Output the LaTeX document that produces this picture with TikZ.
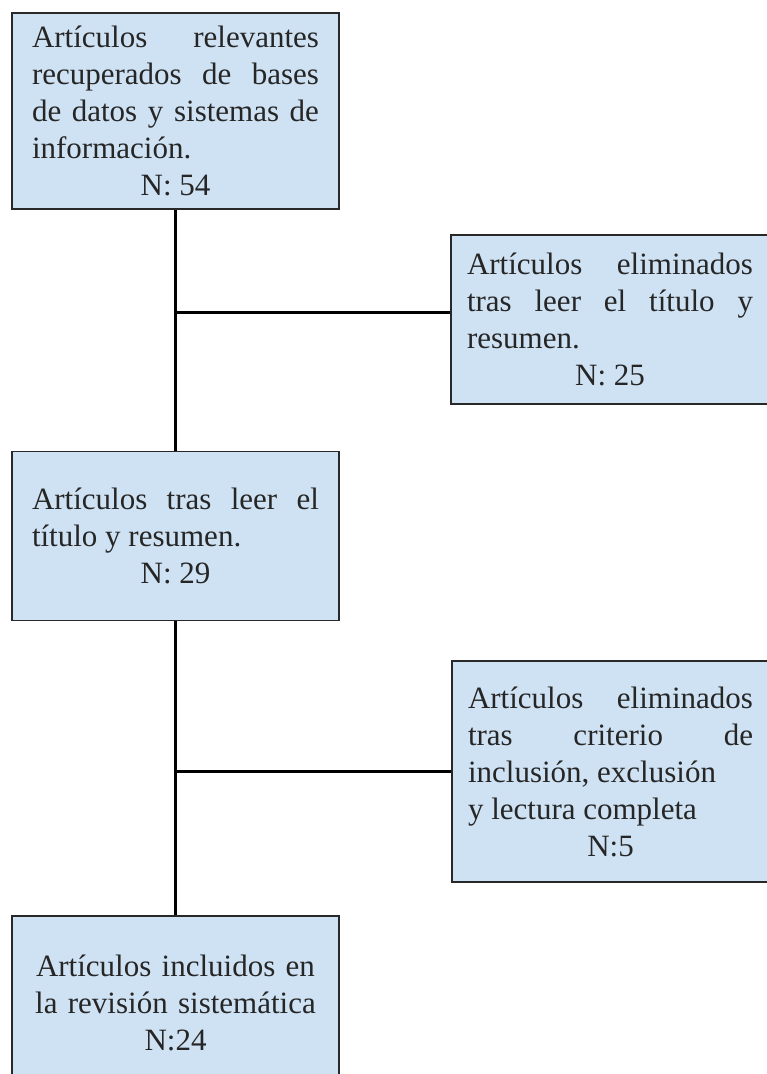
\documentclass[tikz,border=0pt]{standalone}
\usepackage{fontspec}
\setmainfont{Liberation Serif}
\usetikzlibrary{positioning}
\definecolor{cajaazul}{RGB}{207,226,243}
\definecolor{borde}{RGB}{40,40,40}

\begin{document}
\begin{tikzpicture}[x=1pt,y=1pt,
    caja/.style={draw=borde, line width=1.6pt, fill=cajaazul, text=black!85,
      font=\fontsize{31}{37}\selectfont, align=justify, inner sep=0pt,
      text width=287pt, minimum width=327pt},
    linea/.style={line width=3pt, draw=black}]
    \useasboundingbox (0,0) rectangle (767,-1074);
    \node [caja, minimum height=196pt] (recuperados) at (175.5,-111)
      {Artículos relevantes\linebreak recuperados de bases\linebreak de datos y sistemas de\linebreak información.\par{\centering N: 54\par}};
    \node [caja, minimum height=169pt, below=241pt of recuperados] (titulo)
      {Artículos tras leer el\linebreak título y resumen.\par{\centering N: 29\par}};
    \node [caja, minimum height=174pt, align=center, below=294pt of titulo] (incluidos)
      {Artículos incluidos en\\ la revisión sistemática\\ N:24};
    \node [caja, minimum height=169pt, text width=286pt, minimum width=318pt] (eliminadosA) at (610,-319.5)
      {Artículos eliminados\linebreak tras leer el título y\linebreak resumen.\par{\centering N: 25\par}};
    \node [caja, minimum height=221pt, text width=285pt, minimum width=317pt] (eliminadosB) at (610.5,-771.5)
      {Artículos eliminados\linebreak tras criterio de\linebreak inclusión, exclusión\hfill\break y lectura completa\par{\centering N:5\par}};
    % conectores
    \draw [linea] (recuperados.south) -- (titulo.north);
    \draw [linea] ([yshift=7.5pt]eliminadosA.west) -- ([yshift=7.5pt]eliminadosA.west -| recuperados.south);
    \draw [linea] (titulo.south) -- (incluidos.north);
    \draw [linea] (eliminadosB.west) -- (eliminadosB.west -| titulo.south);
\end{tikzpicture}
\end{document}
